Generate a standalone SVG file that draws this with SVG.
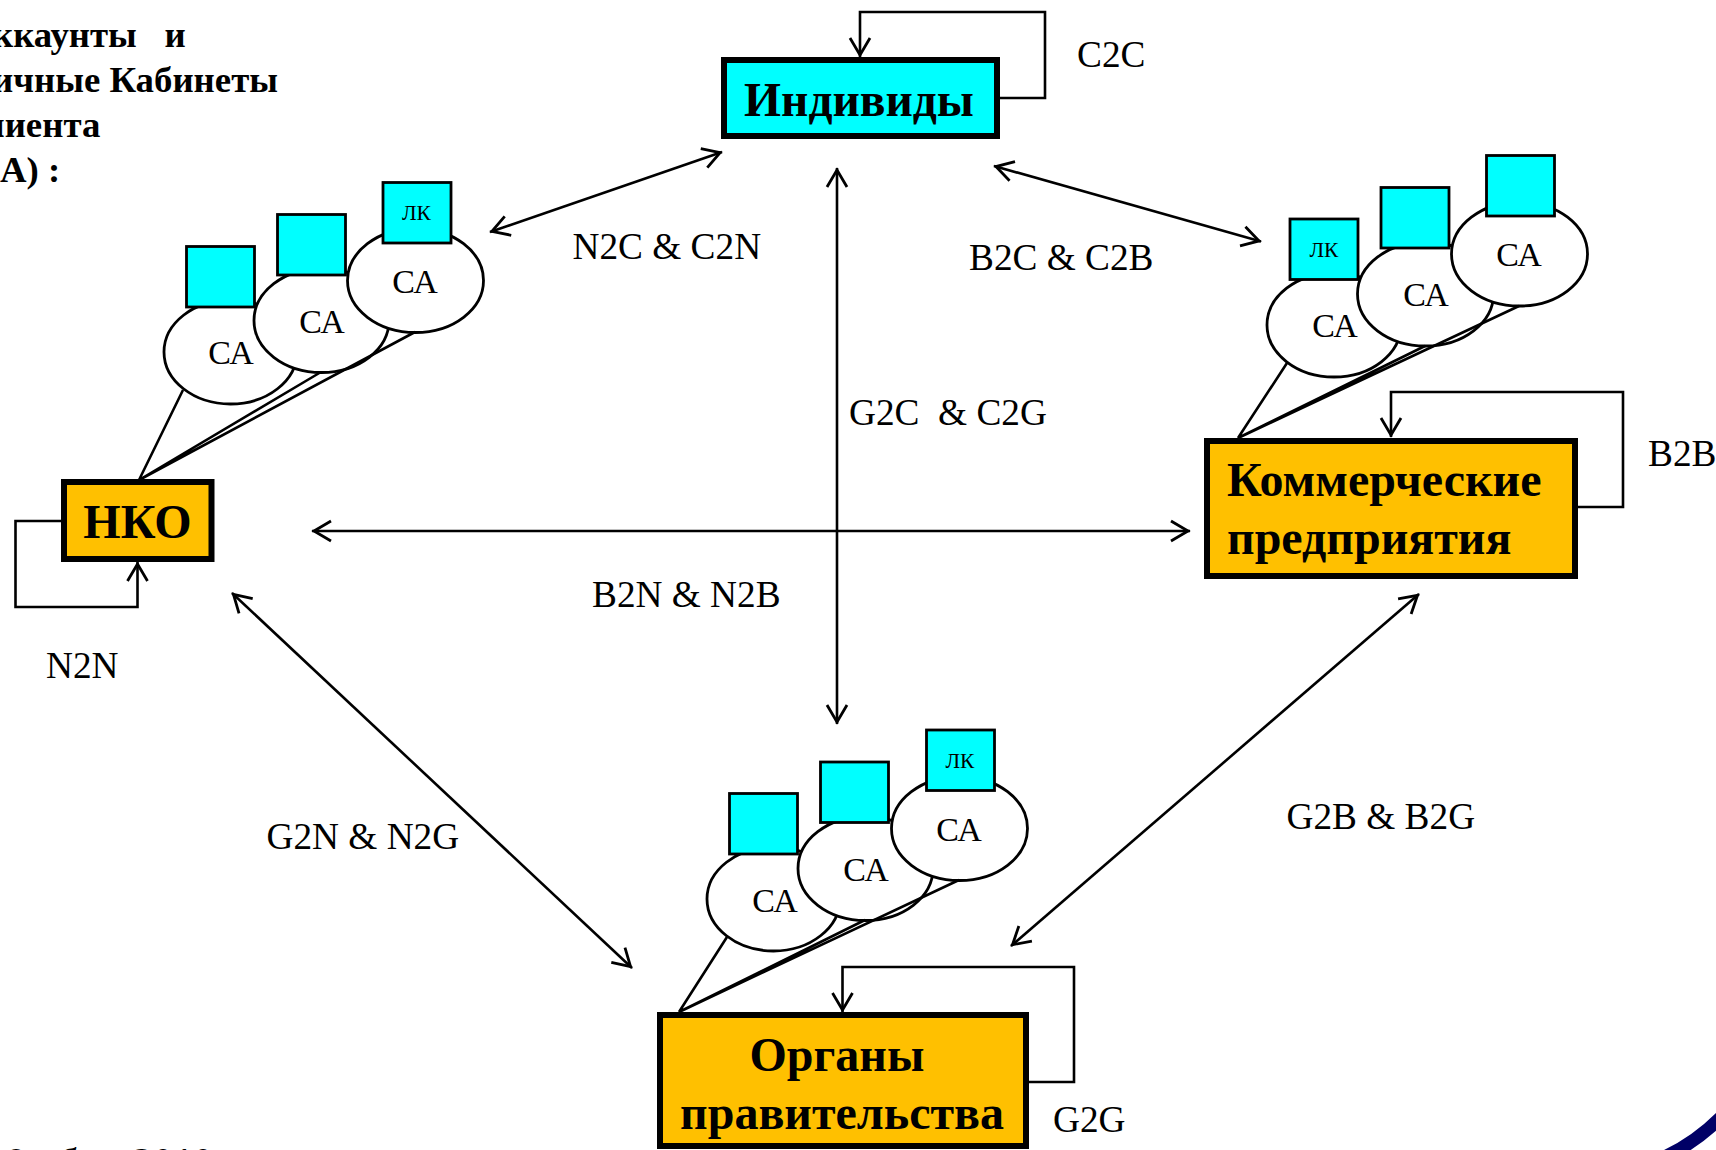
<svg xmlns="http://www.w3.org/2000/svg" width="1716" height="1150" viewBox="0 0 1716 1150">
<style>
text{font-family:"Liberation Serif","Noto Sans CJK SC",serif;fill:#000}
.box{stroke:#000;stroke-width:6}
.cyan{fill:#00ffff}.orange{fill:#ffc000}
.big{font-size:48px;font-weight:bold}
.hd{font-size:36.800px;font-weight:bold}
.lb{font-size:37.300px}
.ca{font-size:34px;text-anchor:middle}
.lk{font-size:21.500px;text-anchor:middle}
.mid{text-anchor:middle}
.el{fill:#fff;stroke:#000;stroke-width:2.8}
.sq{fill:#00ffff;stroke:#000;stroke-width:2.8}
.ln{fill:none;stroke:#000;stroke-width:2.6}
.ar{marker-end:url(#h)}
.ab{marker-start:url(#h);marker-end:url(#h)}
</style>
<defs>
<marker id="h" markerUnits="userSpaceOnUse" markerWidth="40" markerHeight="40" refX="22" refY="20" orient="auto-start-reverse" overflow="visible">
<path d="M3,10 L20,20 L3,30" fill="none" stroke="#000" stroke-width="2.8"/>
</marker>
</defs>
<rect width="1716" height="1150" fill="#fff"/>

<g id="caption" class="hd">
<text x="-8" y="47" xml:space="preserve">ккаунты   и</text>
<text x="-8" y="92">ичные Кабинеты</text>
<text x="-16" y="137">лиента</text>
<text x="0" y="182">А) :</text>
</g>

<g id="cluster-nko">
<ellipse class="el" cx="230.500" cy="352" rx="66.500" ry="52"/><rect class="sq" x="186.500" y="246.500" width="68" height="60.500"/>
<ellipse class="el" cx="321.500" cy="320.500" rx="67.500" ry="52"/><rect class="sq" x="277.500" y="214.500" width="68" height="60.500"/>
<ellipse class="el" cx="415.500" cy="280.500" rx="68" ry="52"/><rect class="sq" x="383" y="182.500" width="68" height="60.500"/>
<text class="ca" x="231" y="364">СА</text><text class="ca" x="322" y="333">СА</text><text class="ca" x="415" y="293">СА</text>
<text class="lk" x="416.500" y="220">ЛК</text>
</g>
<g id="cluster-business">
<ellipse class="el" cx="1334" cy="325" rx="67" ry="52"/><rect class="sq" x="1290" y="219" width="68" height="60.500"/>
<ellipse class="el" cx="1425.500" cy="294" rx="68" ry="52"/><rect class="sq" x="1381" y="187.500" width="68" height="60.500"/>
<ellipse class="el" cx="1519.500" cy="254" rx="68" ry="52"/><rect class="sq" x="1486.500" y="155.500" width="68" height="60.500"/>
<text class="ca" x="1335" y="337">СА</text><text class="ca" x="1426" y="306">СА</text><text class="ca" x="1519" y="266">СА</text>
<text class="lk" x="1324" y="257">ЛК</text>
</g>
<g id="cluster-gov">
<ellipse class="el" cx="773.500" cy="899" rx="66.500" ry="52"/><rect class="sq" x="729.500" y="793.500" width="68" height="60.500"/>
<ellipse class="el" cx="865.500" cy="868.500" rx="67.500" ry="52"/><rect class="sq" x="820.500" y="762" width="68" height="60.500"/>
<ellipse class="el" cx="959.500" cy="828.500" rx="68" ry="52"/><rect class="sq" x="926.500" y="730" width="68" height="60.500"/>
<text class="ca" x="775" y="912">СА</text><text class="ca" x="866" y="881">СА</text><text class="ca" x="959" y="841">СА</text>
<text class="lk" x="960" y="768">ЛК</text>
</g>

<g id="connectors">
<path class="ln" d="M139,480 L183,390 M139,480 L321,372 M139,480 L415,332"/>
<path class="ln" d="M1238,438 L1287,363 M1238,438 L1425,346 M1238,438 L1519,306"/>
<path class="ln" d="M679,1012 L727,937 M679,1012 L865,920 M679,1012 L959,880"/>
<path class="ln ar" d="M999,98 H1045 V12 H860 V57"/>
<path class="ln ar" d="M1577,507 H1623 V392 H1391 V437"/>
<path class="ln ar" d="M1029,1082 H1074 V967 H842.500 V1012"/>
<path class="ln ar" d="M61,521 H15.500 V607 H137.500 V562"/>
<path class="ln ab" d="M490,232 L722,152"/>
<path class="ln ab" d="M994,166 L1261,241.500"/>
<path class="ln ab" d="M837,168 V724"/>
<path class="ln ab" d="M312,531 H1190"/>
<path class="ln ab" d="M232,593 L632,968"/>
<path class="ln ab" d="M1419,594 L1011,946"/>
</g>

<g id="node-individuals">
<rect class="box cyan" x="724" y="60" width="273" height="76"/>
<text class="big mid" x="859" y="116" style="font-size:47.500px">Индивиды</text>
</g>
<g id="node-business">
<rect class="box orange" x="1207" y="441" width="368" height="135"/>
<text class="big" x="1227" y="496">Коммерческие</text>
<text class="big" x="1227" y="554">предприятия</text>
</g>
<g id="node-nko">
<rect class="box orange" x="64" y="482" width="147.500" height="77"/>
<text class="big mid" x="137.500" y="538">НКО</text>
</g>
<g id="node-gov">
<rect class="box orange" x="660" y="1015" width="366" height="131"/>
<text class="big mid" x="837" y="1071">Органы</text>
<text class="big mid" x="842" y="1129">правительства</text>
</g>

<g id="labels" class="lb">
<text x="1077" y="67">C2C</text>
<text x="1648" y="466">B2B</text>
<text x="46" y="678">N2N</text>
<text x="1053" y="1132">G2G</text>
<text x="572.500" y="259">N2C &amp; C2N</text>
<text x="969" y="270">B2C &amp; C2B</text>
<text x="849" y="425" xml:space="preserve">G2C  &amp; C2G</text>
<text x="592" y="607">B2N &amp; N2B</text>
<text x="266.500" y="849">G2N &amp; N2G</text>
<text x="1286.500" y="829">G2B &amp; B2G</text>
</g>

<g id="footer" font-size="36" font-weight="bold">
<text x="7" y="1173">8</text><text x="60" y="1173">б</text><text x="134" y="1173" letter-spacing="2">2010</text>
</g>
<path id="corner-arc" d="M1660,1159 Q1697,1143 1726,1112" fill="none" stroke="#000066" stroke-width="13"/>
</svg>
